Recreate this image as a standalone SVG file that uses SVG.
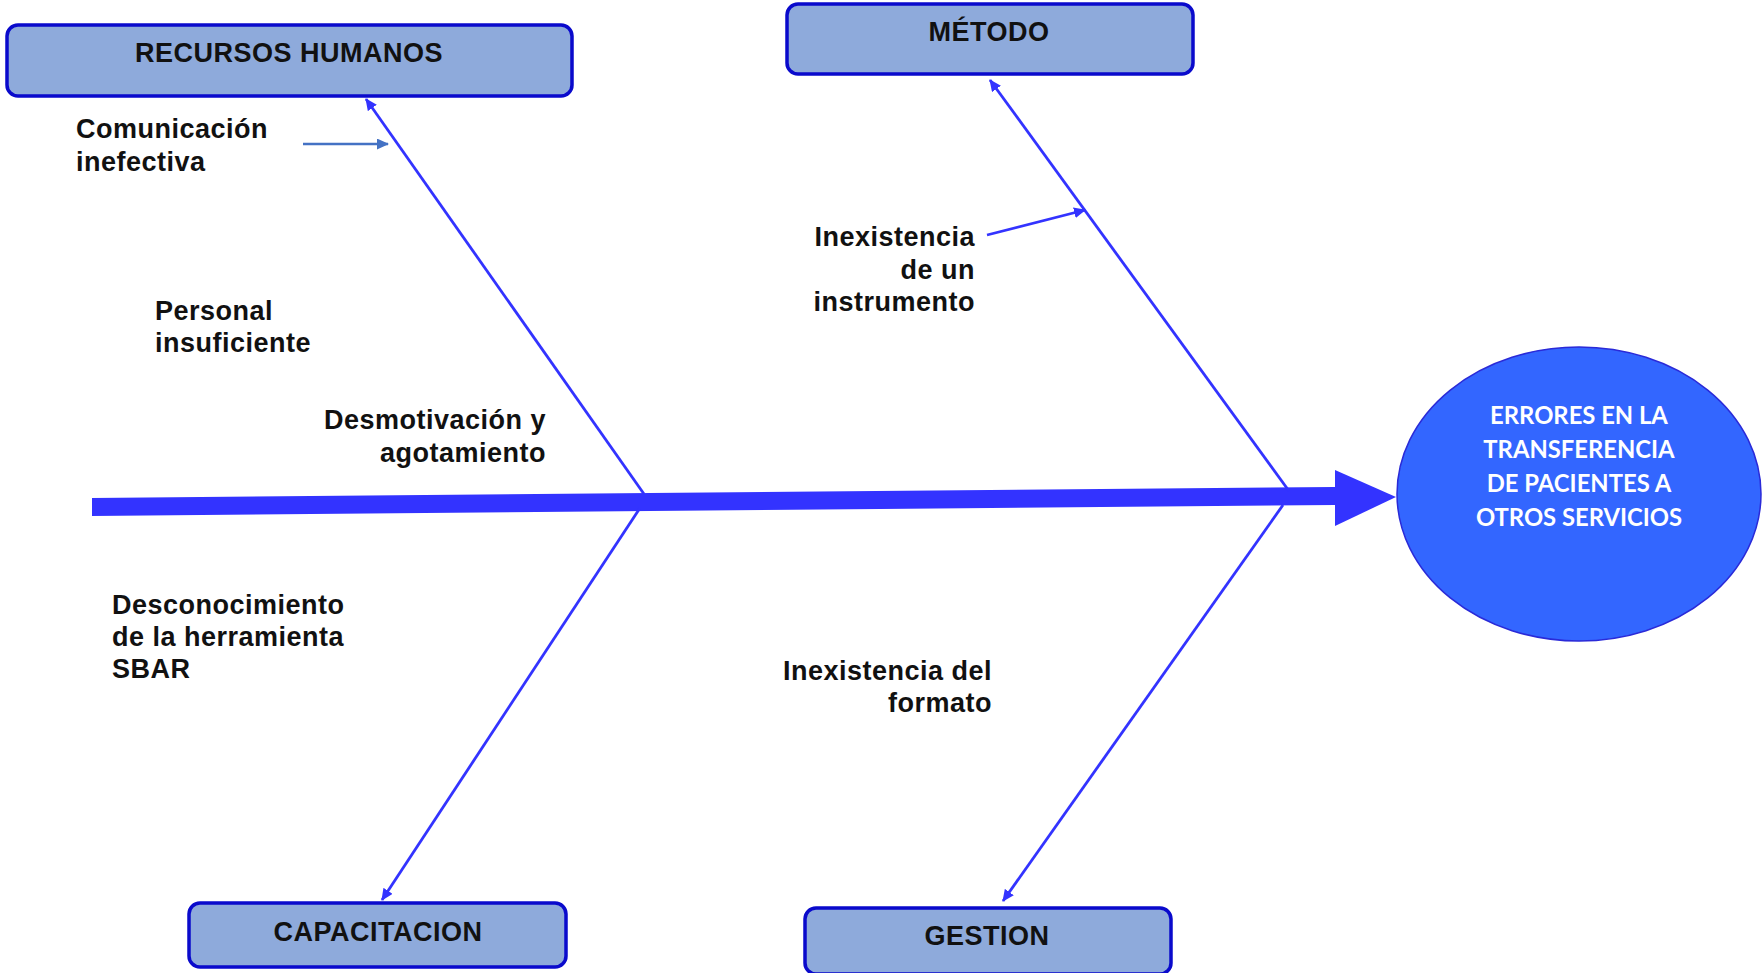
<svg xmlns="http://www.w3.org/2000/svg" width="1762" height="973" viewBox="0 0 1762 973">
  <style>
    .box { fill: #8EAADB; stroke: #0A0ACC; stroke-width: 3.5; }
    .title { font-family: "Liberation Sans", Arial, sans-serif; font-weight: bold; font-size: 27px; letter-spacing: 0.5px; fill: #111; text-anchor: middle; }
    .lbl { font-family: "Liberation Sans", Arial, sans-serif; font-weight: bold; font-size: 27px; letter-spacing: 0.5px; fill: #111; }
    .r { text-anchor: end; }
    .bone { stroke: #3333FF; stroke-width: 2.8; fill: none; marker-end: url(#ah); }
    .eff { font-family: "Lato", "Open Sans", sans-serif; font-weight: bold; font-size: 23.8px; fill: #FFFFFF; text-anchor: middle; }
  </style>
  <defs>
    <marker id="ah" markerWidth="12" markerHeight="11" refX="11" refY="5.5" orient="auto" markerUnits="userSpaceOnUse" viewBox="0 0 12 11">
      <path d="M0,0 L12,5.5 L0,11 Z" fill="#3333FF"/>
    </marker>
    <marker id="ah2" markerWidth="12" markerHeight="11" refX="11" refY="5.5" orient="auto" markerUnits="userSpaceOnUse" viewBox="0 0 12 11">
      <path d="M0,0 L12,5.5 L0,11 Z" fill="#4472C4"/>
    </marker>
  </defs>

  <rect width="1762" height="973" fill="#FFFFFF"/>

  <g id="connectors">
    <polygon points="92,498 1335,487 1335,505 92,516" fill="#3333FF"/>
    <polygon points="1335,470 1396,497 1335,526" fill="#3333FF"/>
    <line class="bone" x1="644" y1="494" x2="366" y2="99"/>
    <line class="bone" x1="640" y1="508" x2="382" y2="900"/>
    <line class="bone" x1="1289" y1="491" x2="990" y2="80"/>
    <line class="bone" x1="1283" y1="505" x2="1003" y2="901"/>
    <line x1="303" y1="144" x2="388" y2="144" stroke="#4472C4" stroke-width="2.5" marker-end="url(#ah2)"/>
    <line class="bone" x1="987" y1="235" x2="1085" y2="210"/>
  </g>

  <g id="recursos-humanos">
    <rect class="box" x="7" y="25" width="565" height="71" rx="11"/>
    <text class="title" x="289" y="62">RECURSOS HUMANOS</text>
  </g>
  <g id="metodo">
    <rect class="box" x="787" y="4" width="406" height="70" rx="11"/>
    <text class="title" x="989" y="41">MÉTODO</text>
  </g>
  <g id="capacitacion">
    <rect class="box" x="189" y="903" width="377" height="64" rx="11"/>
    <text class="title" x="378" y="941">CAPACITACION</text>
  </g>
  <g id="gestion">
    <rect class="box" x="805" y="908" width="366" height="66" rx="11"/>
    <text class="title" x="987" y="945">GESTION</text>
  </g>

  <g id="efecto">
    <ellipse cx="1579" cy="494" rx="182" ry="147" fill="#3366FF" stroke="#2A2AD8" stroke-width="1.5"/>
    <text class="eff" x="1579" y="424">ERRORES EN LA</text>
    <text class="eff" x="1579" y="458">TRANSFERENCIA</text>
    <text class="eff" x="1579" y="492">DE PACIENTES A</text>
    <text class="eff" x="1579" y="526">OTROS SERVICIOS</text>
  </g>

  <g id="causa-comunicacion">
    <text class="lbl" x="76" y="138">Comunicación</text>
    <text class="lbl" x="76" y="171">inefectiva</text>
  </g>
  <g id="causa-personal">
    <text class="lbl" x="155" y="320">Personal</text>
    <text class="lbl" x="155" y="352">insuficiente</text>
  </g>
  <g id="causa-desmotivacion">
    <text class="lbl r" x="546" y="429">Desmotivación y</text>
    <text class="lbl r" x="546" y="462">agotamiento</text>
  </g>
  <g id="causa-instrumento">
    <text class="lbl r" x="975" y="246">Inexistencia</text>
    <text class="lbl r" x="975" y="279">de un</text>
    <text class="lbl r" x="975" y="311">instrumento</text>
  </g>
  <g id="causa-sbar">
    <text class="lbl" x="112" y="614">Desconocimiento</text>
    <text class="lbl" x="112" y="646">de la herramienta</text>
    <text class="lbl" x="112" y="678">SBAR</text>
  </g>
  <g id="causa-formato">
    <text class="lbl r" x="992" y="680">Inexistencia del</text>
    <text class="lbl r" x="992" y="712">formato</text>
  </g>
</svg>
